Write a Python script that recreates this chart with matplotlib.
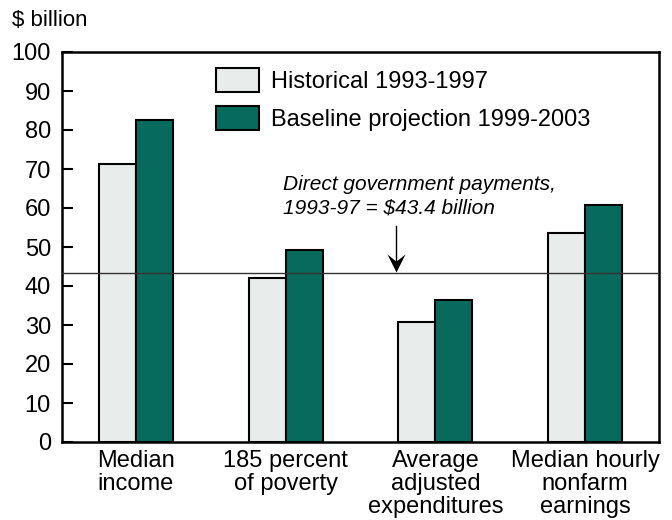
import matplotlib
matplotlib.use("Agg")
import matplotlib.pyplot as plt
from matplotlib.path import Path
import numpy as np

plt.rcParams['font.family'] = ['Liberation Sans', 'DejaVu Sans']

categories = ["Median\nincome", "185 percent\nof poverty", "Average\nadjusted\nexpenditures",
              "Median hourly\nnonfarm\nearnings"]
historical = [71.2, 42.0, 30.8, 53.5]
baseline = [82.5, 49.2, 36.4, 60.7]
payments = 43.4
series_names = ["Historical 1993-1997", "Baseline projection 1999-2003"]
yticks = [0, 10, 20, 30, 40, 50, 60, 70, 80, 90, 100]

light = "#E8ECEA"
teal = "#066A5C"

fig = plt.figure(figsize=(6.72, 5.2), dpi=100)
ax = fig.add_axes([62/672, 78/520, 597/672, 390/520])

x = np.arange(len(categories))
w = 0.247
ax.bar(x - w/2, historical, w, color=light, edgecolor="black", linewidth=1.5,
       label=series_names[0], zorder=2)
ax.bar(x + w/2, baseline, w, color=teal, edgecolor="black", linewidth=1.5,
       label=series_names[1], zorder=2)

ax.axhline(payments, color="#333333", linewidth=1.0, zorder=3)

ax.set_xlim(-0.493, 3.493)
ax.set_ylim(0, 100)
ax.set_yticks(yticks)
ax.set_xticks(x)
ax.set_xticklabels(categories, linespacing=1.06)
ax.tick_params(axis="y", direction="in", length=8, width=1.5, labelsize=17, pad=8)
ax.tick_params(axis="x", length=0, labelsize=17, pad=6)
for s in ax.spines.values():
    s.set_linewidth(1.8)

ax.text(0.98, 63.0, "Direct government payments,\n1993-97 = $43.4 billion",
        style="italic", fontsize=15, ha="left", va="center", linespacing=1.25)

# pointer from the note down to the payments line, with a notched head
arrow_x = 1.74
head = Path([(0, 0), (-0.5, 1), (0, 0.6), (0.5, 1), (0, 0)],
            [Path.MOVETO, Path.LINETO, Path.LINETO, Path.LINETO, Path.CLOSEPOLY])
ax.plot([arrow_x, arrow_x], [55.5, payments + 2], color="black", lw=1.0, zorder=4)
ax.plot([arrow_x], [payments + 0.2], marker=head, markersize=26, color="black",
        markeredgewidth=0, zorder=4)

ax.legend(loc="upper left", bbox_to_anchor=(216/672, 452/520),
          bbox_transform=fig.transFigure, frameon=False, fontsize=17,
          handlelength=1.82, handleheight=1.19, handletextpad=0.5,
          labelspacing=0.55, borderpad=0, borderaxespad=0)

fig.text(12/672, 1 - 20/520, "$ billion", fontsize=16, ha="left", va="center")

fig.savefig("out.png", dpi=100)
